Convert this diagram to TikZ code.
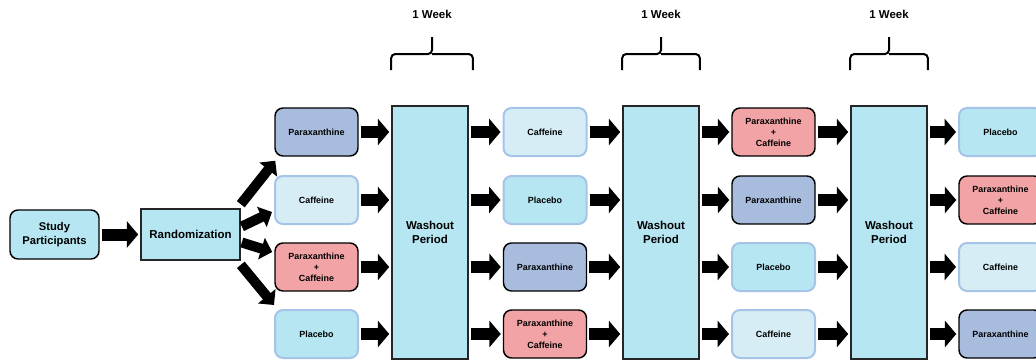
\documentclass[tikz,border=0pt]{standalone}
\usepackage{fontspec}
\setmainfont{Liberation Sans}
\usetikzlibrary{arrows.meta}

\definecolor{placcyan}{RGB}{181,230,242}
\definecolor{caffcyan}{RGB}{214,237,245}
\definecolor{paraxblue}{RGB}{168,189,222}
\definecolor{comborose}{RGB}{242,163,165}
\definecolor{softblue}{RGB}{166,196,232}

\begin{document}
\begin{tikzpicture}[x=0.75pt,y=-0.75pt,
	box/.style={rounded corners=6pt, minimum width=62.25pt, minimum height=36pt,
		inner sep=1pt, align=center, font=\fontsize{6.7}{8.2}\selectfont\bfseries},
	paraxbox/.style={box, fill=paraxblue, draw=black, line width=1.1pt},
	caffbox/.style={box, fill=caffcyan, draw=softblue, line width=1.5pt},
	placbox/.style={box, fill=placcyan, draw=softblue, line width=1.5pt},
	combobox/.style={box, fill=comborose, draw=black, line width=1.1pt},
	washbox/.style={rectangle, fill=placcyan, draw=black!85, line width=1.2pt,
		minimum width=57pt, minimum height=190pt, align=center,
		font=\fontsize{8.6}{10.3}\selectfont\bfseries},
	bigarrow/.style={line width=9pt, -{Triangle[length=8.5pt,width=19.5pt]},
		shorten <=1.5pt, shorten >=1.5pt},
	fanarrow/.style={line width=7.5pt, -{Triangle[length=8.5pt,width=16.5pt]}},
	brace/.style={line width=1.5pt, rounded corners=3pt},
	weeklabel/.style={font=\fontsize{8.6}{10.3}\selectfont\bfseries}]
	\useasboundingbox (0,0) rectangle (1036,360);

	% start
	\node[rounded corners=6pt, fill=placcyan, draw=black, line width=1.1pt,
		minimum width=66.75pt, minimum height=36.75pt, inner sep=1pt, align=center,
		font=\fontsize{8.4}{10}\selectfont\bfseries] (study) at (54.5,234.5) {Study\\Participants};
	\node[rectangle, fill=placcyan, draw=black!85, line width=1.2pt,
		minimum width=74.25pt, minimum height=38.25pt,
		font=\fontsize{8.6}{10.3}\selectfont\bfseries] (rand) at (190.5,234.5) {Randomization};

	% period 1
	\node[paraxbox] (s1a) at (316.5,132) {Paraxanthine};
	\node[caffbox] (s1b) at (316.5,200) {Caffeine};
	\node[combobox] (s1c) at (316.5,267) {Paraxanthine\\+\\Caffeine};
	\node[placbox] (s1d) at (316.5,334) {Placebo};
	\node[washbox] (w1) at (430,232.5) {Washout\\Period};

	% period 2
	\node[caffbox] (s2a) at (545,132) {Caffeine};
	\node[placbox] (s2b) at (545,200) {Placebo};
	\node[paraxbox] (s2c) at (545,267) {Paraxanthine};
	\node[combobox] (s2d) at (545,334) {Paraxanthine\\+\\Caffeine};
	\node[washbox] (w2) at (661,232.5) {Washout\\Period};

	% period 3
	\node[combobox] (s3a) at (773.5,132) {Paraxanthine\\+\\Caffeine};
	\node[paraxbox] (s3b) at (773.5,200) {Paraxanthine};
	\node[placbox] (s3c) at (773.5,267) {Placebo};
	\node[caffbox] (s3d) at (773.5,334) {Caffeine};
	\node[washbox] (w3) at (889,232.5) {Washout\\Period};

	% period 4
	\node[placbox] (s4a) at (1000.5,132) {Placebo};
	\node[combobox] (s4b) at (1000.5,200) {Paraxanthine\\+\\Caffeine};
	\node[caffbox] (s4c) at (1000.5,267) {Caffeine};
	\node[paraxbox] (s4d) at (1000.5,334) {Paraxanthine};

	% weeks
	\node[weeklabel] (wk1) at ([shift={(2,-91)}]w1.north) {1 Week};
	\node[weeklabel] (wk2) at ([shift={(0,-91)}]w2.north) {1 Week};
	\node[weeklabel] (wk3) at ([shift={(0,-91)}]w3.north) {1 Week};
	\draw[brace] ([shift={(0,-35)}]w1.north west) |- ([shift={(2,-51)}]w1.north) -- ([shift={(2,-68)}]w1.north);
	\draw[brace] ([shift={(4,-35)}]w1.north east) |- ([shift={(2,-51)}]w1.north);
	\draw[brace] ([shift={(0,-35)}]w2.north west) |- ([shift={(0,-51)}]w2.north) -- ([shift={(0,-68)}]w2.north);
	\draw[brace] ([shift={(0,-35)}]w2.north east) |- ([shift={(0,-51)}]w2.north);
	\draw[brace] ([shift={(0,-35)}]w3.north west) |- ([shift={(0,-51)}]w3.north) -- ([shift={(0,-68)}]w3.north);
	\draw[brace] ([shift={(0,-35)}]w3.north east) |- ([shift={(0,-51)}]w3.north);

	% arrows
	\draw[bigarrow] (study) -- (rand);
	\draw[fanarrow] ([shift={(0,-4)}]rand.north east) -- ([shift={(1,4)}]s1a.south west);
	\draw[fanarrow] ([shift={(1,-8)}]rand.east) -- ([shift={(-2,12)}]s1b.west);
	\draw[fanarrow] ([shift={(1,8)}]rand.east) -- ([shift={(-2,-15)}]s1c.west);
	\draw[fanarrow] ([shift={(0,4)}]rand.south east) -- ([shift={(0,-4)}]s1d.north west);

	\draw[bigarrow] (s1a) -- (s1a -| w1.west);
	\draw[bigarrow] (s1b) -- (s1b -| w1.west);
	\draw[bigarrow] (s1c) -- (s1c -| w1.west);
	\draw[bigarrow] (s1d) -- (s1d -| w1.west);
	\draw[bigarrow] (s1a -| w1.east) -- (s2a);
	\draw[bigarrow] (s1b -| w1.east) -- (s2b);
	\draw[bigarrow] (s1c -| w1.east) -- (s2c);
	\draw[bigarrow] (s1d -| w1.east) -- (s2d);

	\draw[bigarrow] (s2a) -- (s2a -| w2.west);
	\draw[bigarrow] (s2b) -- (s2b -| w2.west);
	\draw[bigarrow] (s2c) -- (s2c -| w2.west);
	\draw[bigarrow] (s2d) -- (s2d -| w2.west);
	\draw[bigarrow] (s2a -| w2.east) -- (s3a);
	\draw[bigarrow] (s2b -| w2.east) -- (s3b);
	\draw[bigarrow] (s2c -| w2.east) -- (s3c);
	\draw[bigarrow] (s2d -| w2.east) -- (s3d);

	\draw[bigarrow] (s3a) -- (s3a -| w3.west);
	\draw[bigarrow] (s3b) -- (s3b -| w3.west);
	\draw[bigarrow] (s3c) -- (s3c -| w3.west);
	\draw[bigarrow] (s3d) -- (s3d -| w3.west);
	\draw[bigarrow] (s3a -| w3.east) -- (s4a);
	\draw[bigarrow] (s3b -| w3.east) -- (s4b);
	\draw[bigarrow] (s3c -| w3.east) -- (s4c);
	\draw[bigarrow] (s3d -| w3.east) -- (s4d);
\end{tikzpicture}
\end{document}
